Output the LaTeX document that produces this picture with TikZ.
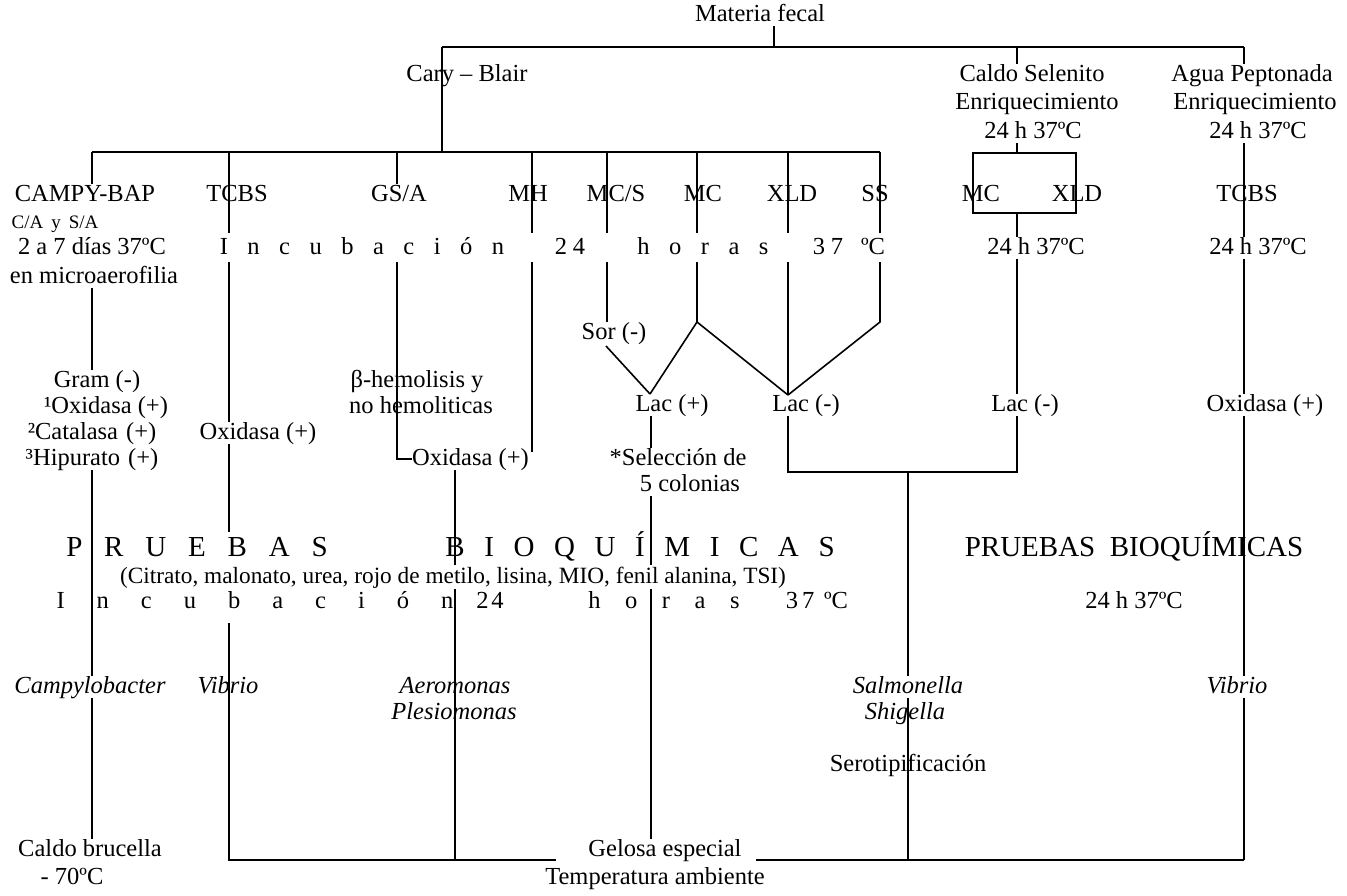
\documentclass[tikz,border=0pt]{standalone}
\usepackage{fontspec}
\setmainfont{Liberation Serif}
\makeatletter
\newcommand\lsp[2]{\begingroup\let\lsp@f\relax\@tfor\lsp@c:=#2\do{\lsp@f\lsp@c\def\lsp@f{\kern#1\relax}}\endgroup}
\makeatother
\newcommand\myfs{\fontsize{24.5}{29}\selectfont}
\newcommand\myfb{\fontsize{29}{33}\selectfont}
\newcommand\myfsm{\fontsize{19}{23}\selectfont}
\newcommand\myfc{\fontsize{23.3}{27}\selectfont}
\pgfdeclarelayer{bg}
\pgfdeclarelayer{lines}
\pgfsetlayers{bg,lines,main}
\begin{document}
\begin{tikzpicture}[x=1pt,y=-1pt,
  every node/.style={inner sep=0pt,font=\myfs,text height=17pt,text depth=5pt},
  lnk/.style={line width=1.6pt},
  itx/.style={font=\myfs\itshape},
  bigtxt/.style={font=\myfb,text height=20pt,text depth=6pt}]
\begin{pgfonlayer}{bg}
\fill[white] (0,0) rectangle (1347,895);
\end{pgfonlayer}
\useasboundingbox (0,0) rectangle (1347,895);

% ---- top
\node (mf) at (760,15) {Materia fecal};
\node (cb) at (467,75) {Cary – Blair};
\node (cs1) at (1032,75) {Caldo Selenito};
\node (cs2) at (1037,103) {Enriquecimiento};
\node (cs3) at (1033,132) {24 h 37ºC};
\node (ap1) at (1252,75) {Agua Peptonada};
\node (ap2) at (1255,103) {Enriquecimiento};
\node (ap3) at (1258,132) {24 h 37ºC};

% ---- media row
\node (campy) at (85,195) {CAMPY-BAP};
\node (tcbsA) at (237,195) {TCBS};
\node (gsa) at (399,195) {GS/A};
\node (mh) at (528,195) {MH};
\node (mcs) at (616,195) {MC/S};
\node (mcA) at (703,195) {MC};
\node (xldA) at (792,195) {XLD};
\node (ss) at (875,195) {SS};
\node (mcB) at (981,195) {MC};
\node (xldB) at (1077,195) {XLD};
\node (tcbsB) at (1247,195) {TCBS};

% ---- left column
\node[font=\myfsm] (ca) at (55,222) {C/A\hspace{8pt}y\hspace{8pt}S/A};
\node (dias) at (92,248) {2 a 7 días 37ºC};
\node (micro) at (94,277) {en microaerofilia};
\node (gram) at (97,381) {Gram (-)};
\node (ox1) at (106,407) {¹Oxidasa (+)};
\node (cat) at (92,433) {²Catalasa\hspace{8pt}(+)};
\node (hip) at (92,459) {³Hipurato\hspace{8pt}(+)};

% ---- spaced incubation row
\node[fill=white,minimum width=671pt,minimum height=29pt] (band) at (556.5,247.5) {};
\node (incA) at (362,248) {\lsp{19.5pt}{Incubación}};
\node (n24A) at (570,248) {\lsp{6pt}{24}};
\node (horA) at (703,248) {\lsp{19.5pt}{horas}};
\node (n37A) at (828,248) {\lsp{6pt}{37}};
\node (degA) at (873,248) {ºC};
\node (h24B) at (1036,248) {24 h 37ºC};
\node (h24C) at (1258,248) {24 h 37ºC};

% ---- middle
\node (sor) at (614,333) {Sor (-)};
\node (beta) at (417,381) {β-hemolisis y};
\node (nohem) at (421,407) {no hemoliticas};
\node (lacp) at (672,405) {Lac (+)};
\node (lacm) at (806,405) {Lac (-)};
\node (lacc) at (1025,405) {Lac (-)};
\node (oxR) at (1265,405) {Oxidasa (+)};
\node (oxT) at (258,433) {Oxidasa (+)};
\node[anchor=west] (oxG) at (412,459) {Oxidasa (+)};
\node (sel) at (678,459) {*Selección de};
\node (col) at (690,485) {5 colonias};

% ---- biochemical tests
\node[bigtxt] (pru) at (197,549) {\lsp{21.8pt}{PRUEBAS}};
\node[bigtxt] (bio) at (640,549) {\lsp{19.6pt}{BIOQUÍMICAS}};
\node[fill=white,inner ysep=1pt,font=\myfc] (cit) at (453,577) {(Citrato, malonato, urea, rojo de metilo, lisina, MIO, fenil alanina, TSI)};
\node (incB) at (255,602) {\lsp{32pt}{Incubación}};
\node (n24B) at (490,602) {\lsp{3pt}{24}};
\node (horB) at (664,602) {\lsp{24.5pt}{horas}};
\node (n37B) at (800,602) {\lsp{4pt}{37}};
\node (degB) at (836,602) {ºC};
\node[bigtxt] (pbR) at (1134,549) {PRUEBAS\ \ BIOQUÍMICAS};
\node (h24D) at (1134,602) {24 h 37ºC};

% ---- results
\node[itx] (campyl) at (90,687) {Campylobacter};
\node[itx] (vibL) at (228,687) {Vibrio};
\node[itx] (aero) at (455,687) {Aeromonas};
\node[itx] (ples) at (454,713) {Plesiomonas};
\node[itx] (salm) at (908,687) {Salmonella};
\node[itx] (shig) at (905,713) {Shigella};
\node[itx] (vibR) at (1237,687) {Vibrio};
\node (sero) at (908,765) {Serotipificación};
\node (bru) at (90,850) {Caldo brucella};
\node (m70) at (72,878) {- 70ºC};
\node (gel) at (665,850) {Gelosa especial};
\node (temp) at (655,878) {Temperatura ambiente};

% ---- connectors
\begin{pgfonlayer}{lines}
\coordinate (t0) at (774,47);
\coordinate (tL) at (442,47);
\coordinate (tC) at (1017,47);
\coordinate (tR) at (1244,47);
\coordinate (cbB) at (442,152);
\coordinate (k1) at (92,152);
\coordinate (k2) at (229,152);
\coordinate (k3) at (397,152);
\coordinate (k4) at (532,152);
\coordinate (k5) at (607,152);
\coordinate (k6) at (697,152);
\coordinate (k7) at (788,152);
\coordinate (k8) at (880,152);
\coordinate (g1) at (397,262);
\coordinate (g2) at (397,459);
\coordinate (m2) at (532,452);
\coordinate (apx) at (697,322);
\coordinate (ssc) at (880,322);
\coordinate (lpT) at (650,394);
\coordinate (lmT) at (788,395);
\coordinate (sd) at (606,346);
\coordinate (sx) at (651,0);
\coordinate (bl) at (788,472);
\coordinate (br) at (1017,472);
\coordinate (bm) at (908,472);
\coordinate (c1) at (1017,153);
\coordinate (rA) at (973,153);
\coordinate (rB) at (1076,213);
\coordinate (c2) at (1017,213);
\coordinate (rx) at (1244,0);
\coordinate (cx) at (92,0);
\coordinate (bL) at (229,860);
\coordinate (bA) at (455,860);
\coordinate (bS) at (908,860);
\coordinate (bR) at (1244,860);
\coordinate (gl) at (556,860);
\coordinate (gr) at (756,860);
\coordinate (tb1) at (229,532);
\coordinate (tb2) at (229,623);

\draw[lnk] (mf.south -| t0) -- (t0);
\draw[lnk] (tL) -- (tR);
\draw[lnk] (tL) -- (cbB);
\draw[lnk] (tC) -- (cs1.north -| tC);
\draw[lnk] (tR) -- (ap1.north -| tR);
\draw[lnk] (k1) -- (k8);
\draw[lnk] (k1) -- (campy.north -| k1);
\draw[lnk] (k2) -- (oxT.north -| k2);
\draw[lnk] (k3) -- (gsa.north -| k3);
\draw[lnk] (g1) -- (g2) -- (oxG.west);
\draw[lnk] (k4) -- (m2);
\draw[lnk] (k5) -- (sor.north -| k5);
\draw[lnk] (sd) -- (lpT);
\draw[lnk] (k6) -- (apx) -- (lpT);
\draw[lnk] (apx) -- (lmT);
\draw[lnk] (k7) -- (lmT);
\draw[lnk] (k8) -- (ssc) -- (lmT);
\draw[lnk] (lacp.south -| sx) -- (sel.north -| sx);
\draw[lnk] (col.south -| sx) -- (gel.north -| sx);
\draw[lnk] (lacm.south -| bl) -- (bl) -- (br) -- (lacc.south -| br);
\draw[lnk] (bm) -- (salm.north -| bm);
\draw[lnk] (salm.south -| bm) -- (bS);
\draw[lnk] (cs3.south -| c1) -- (c1);
\draw[lnk] (rA) rectangle (rB);
\draw[lnk] (c2) -- (h24B.north -| c2);
\draw[lnk] (h24B.south -| c2) -- (lacc.north -| c2);
\draw[lnk] (ap3.south -| rx) -- (h24C.north -| rx);
\draw[lnk] (h24C.south -| rx) -- (oxR.north -| rx);
\draw[lnk] (oxR.south -| rx) -- (vibR.north -| rx);
\draw[lnk] (vibR.south -| rx) -- (bR);
\draw[lnk] (oxT.south -| bL) -- (tb1);
\draw[lnk] (tb2) -- (bL) -- (gl);
\draw[lnk] (gr) -- (bR);
\draw[lnk] (oxG.south -| bA) -- (bA);
\draw[lnk] (micro.south -| cx) -- (gram.north -| cx);
\draw[lnk] (hip.south -| cx) -- (campyl.north -| cx);
\draw[lnk] (campyl.south -| cx) -- (bru.north -| cx);
\end{pgfonlayer}
\end{tikzpicture}
\end{document}
